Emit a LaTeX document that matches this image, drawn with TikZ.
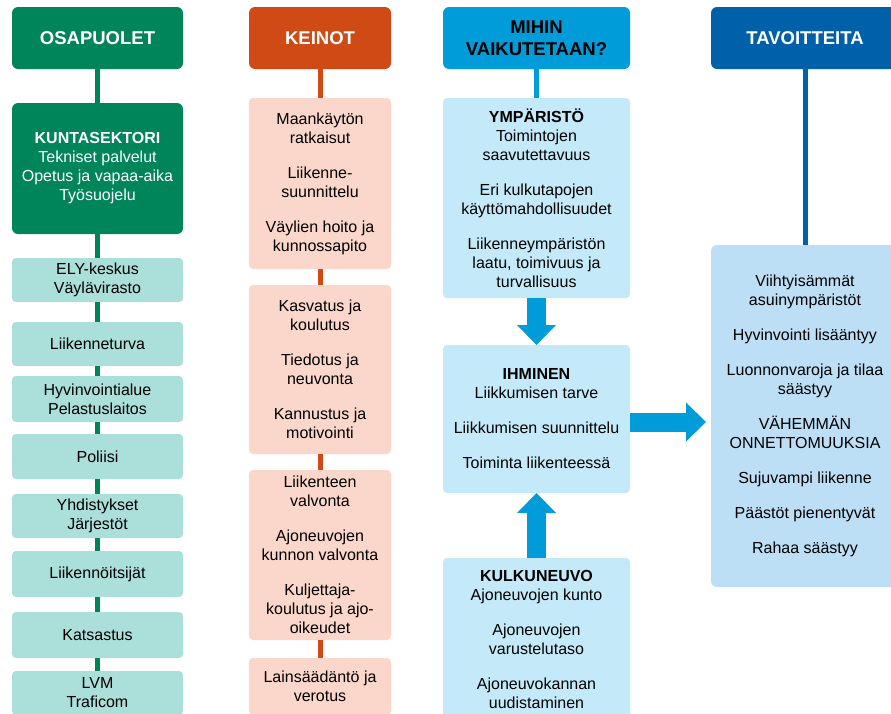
\documentclass[tikz,border=0pt]{standalone}
\usepackage{fontspec}
\setmainfont{Liberation Sans}
\usepackage{xcolor}
\usepackage{tikz}
\usetikzlibrary{arrows.meta,positioning,calc}
\definecolor{osagreen}{RGB}{0,132,90}
\definecolor{osateal}{RGB}{170,223,218}
\definecolor{keinored}{RGB}{208,74,22}
\definecolor{keinopink}{RGB}{250,215,202}
\definecolor{mihinblue}{RGB}{0,155,217}
\definecolor{mihinpale}{RGB}{196,234,250}
\definecolor{tavblue}{RGB}{0,97,170}
\definecolor{tavpale}{RGB}{188,223,246}

\begin{document}
\begin{tikzpicture}[
        x=1pt, y=-1pt,
        every node/.style={font=\fontsize{16}{19}\selectfont},
        head/.style={rectangle, rounded corners=6pt, minimum height=62pt, inner sep=2pt, outer sep=0pt, align=center, font=\fontsize{18.5}{22}\selectfont\bfseries},
        box/.style={rectangle, rounded corners=4pt, inner sep=2pt, outer sep=0pt, align=center},
        tealbox/.style={box, fill=osateal, minimum width=171pt, minimum height=45pt},
        pinkbox/.style={box, fill=keinopink, minimum width=142pt},
        palebox/.style={box, fill=mihinpale, minimum width=187pt},
        link/.style={line width=5pt},
        bigarrow/.style={line width=19pt, mihinblue, -{Triangle[width=39pt, length=20pt, line width=0pt]}}
    ]
        \path[use as bounding box, fill=white] (0,0) rectangle (891,713);

        \node[head, fill=osagreen, text=white, minimum width=171pt] (osa) at (97.5,38) {OSAPUOLET};
        \node[box, fill=osagreen, text=white, minimum width=171pt, minimum height=131pt, rounded corners=6pt, below=34pt of osa] (kunta) {\textbf{KUNTASEKTORI}\\Tekniset palvelut\\Opetus ja vapaa-aika\\Työsuojelu};
        \node[tealbox, minimum height=44pt, below=24pt of kunta] (ely) {ELY-keskus\\Väylävirasto};
        \node[tealbox, minimum height=44pt, below=20pt of ely] (lturva) {Liikenneturva};
        \node[tealbox, minimum height=46pt, below=10pt of lturva] (hyv) {Hyvinvointialue\\Pelastuslaitos};
        \node[tealbox, below=12pt of hyv] (pol) {Poliisi};
        \node[tealbox, minimum height=44pt, below=15pt of pol] (yhd) {Yhdistykset\\Järjestöt};
        \node[tealbox, minimum height=46pt, below=13pt of yhd] (lii) {Liikennöitsijät};
        \node[tealbox, minimum height=46pt, below=15pt of lii] (kat) {Katsastus};
        \node[tealbox, minimum height=44pt, below=13pt of kat] (lvm) {LVM\\Traficom};

        \node[head, fill=keinored, text=white, minimum width=142pt] (keinot) at (320,38) {KEINOT};
        \node[pinkbox, minimum height=171pt, below=29pt of keinot] (kein1) {Maankäytön\\ratkaisut\\[16pt]Liikenne-\\suunnittelu\\[16pt]Väylien hoito ja\\kunnossapito};
        \node[pinkbox, minimum height=169pt, below=16pt of kein1] (kein2) {Kasvatus ja\\koulutus\\[16pt]Tiedotus ja\\neuvonta\\[16pt]Kannustus ja\\motivointi};
        \node[pinkbox, minimum height=170pt, below=16pt of kein2] (kein3) {Liikenteen\\valvonta\\[16pt]Ajoneuvojen\\kunnon valvonta\\[16pt]Kuljettaja-\\koulutus ja ajo-\\oikeudet};
        \node[pinkbox, minimum height=57pt, below=18pt of kein3] (kein4) {Lainsäädäntö ja\\verotus};

        \node[head, fill=mihinblue, text=black, minimum width=187pt] (mihin) at (536.5,38) {MIHIN\\VAIKUTETAAN?};
        \node[palebox, minimum height=200pt, below=29pt of mihin] (ymp) {\textbf{YMPÄRISTÖ}\\Toimintojen\\saavutettavuus\\[16pt]Eri kulkutapojen\\käyttömahdollisuudet\\[16pt]Liikenneympäristön\\laatu, toimivuus ja\\turvallisuus};
        \node[palebox, minimum height=148pt, below=47pt of ymp] (ihm) {\textbf{IHMINEN}\\Liikkumisen tarve\\[16pt]Liikkumisen suunnittelu\\[16pt]Toiminta liikenteessä};
        \node[palebox, minimum height=163pt, below=65pt of ihm] (kul) {\textbf{KULKUNEUVO}\\Ajoneuvojen kunto\\[16pt]Ajoneuvojen\\varustelutaso\\[16pt]Ajoneuvokannan\\uudistaminen};

        \node[head, fill=tavblue, text=white, minimum width=188pt] (tav) at (805,38) {TAVOITTEITA};
        \node[box, fill=tavpale, minimum width=188pt, minimum height=342pt, rounded corners=6pt, below=176pt of tav] (tavbox) {Viihtyisämmät\\asuinympäristöt\\[16pt]Hyvinvointi lisääntyy\\[16pt]Luonnonvaroja ja tilaa\\säästyy\\[16pt]VÄHEMMÄN\\ONNETTOMUUKSIA\\[16pt]Sujuvampi liikenne\\[16pt]Päästöt pienentyvät\\[16pt]Rahaa säästyy};

        \foreach \a/\b in {osa/kunta, kunta/ely, ely/lturva, lturva/hyv, hyv/pol, pol/yhd, yhd/lii, lii/kat, kat/lvm}
            \draw[link, osagreen] (\a) -- (\b);
        \foreach \a/\b in {keinot/kein1, kein1/kein2, kein2/kein3, kein3/kein4}
            \draw[link, keinored] (\a) -- (\b);
        \draw[link, mihinblue] (mihin) -- (ymp);
        \draw[link, tavblue] (tav) -- (tavbox);

        \draw[bigarrow] (ymp.south) -- (ihm.north);
        \draw[bigarrow] (kul.north) -- (ihm.south);
        \draw[bigarrow] ($(ihm.east)+(0,3)$) -- ($(ihm.east -| tavbox.west)+(-5,3)$);
    \end{tikzpicture}
\end{document}
